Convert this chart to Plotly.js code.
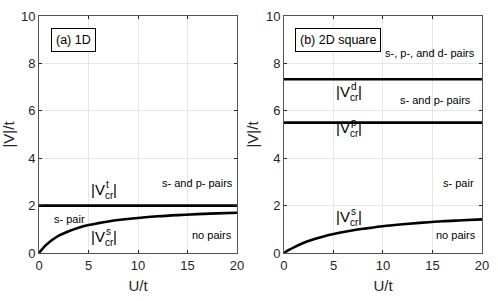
<!DOCTYPE html>
<html><head><meta charset="utf-8">
<script src="https://cdn.plot.ly/plotly-3.0.1.min.js"></script>
<style>html,body{margin:0;padding:0;background:#fff}#chart{width:498px;height:301px}</style>
</head><body><div id="chart"></div>
<script>
// Panel (a) 1D
const u1D = [0, 0.5, 1, 1.5, 2, 3, 4, 5, 6, 7, 8, 10, 12, 14, 16, 18, 20];
const vs1D = [0, 0.25, 0.44, 0.6, 0.73, 0.92, 1.07, 1.18, 1.26, 1.33, 1.39, 1.48, 1.55, 1.60, 1.64, 1.67, 1.70];
const uLine1D = [0, 20];
const vt1D = [2, 2];
// Panel (b) 2D square
const u2D = [0, 0.5, 1, 2, 3, 4, 5, 6, 7, 8, 10, 12, 14, 16, 18, 20];
const vs2D = [0, 0.13, 0.24, 0.43, 0.58, 0.70, 0.80, 0.89, 0.96, 1.02, 1.13, 1.21, 1.28, 1.34, 1.38, 1.42];
const uLine2D = [0, 20];
const vp2D = [5.5, 5.5];
const vd2D = [7.33, 7.33];
const xTicks = [0, 5, 10, 15, 20];
const yTicks = [0, 2, 4, 6, 8, 10];

const FONT = 'Liberation Sans, Arial, Helvetica, sans-serif';
const ink = '#262626';
const lineStyle = {color: '#000', width: 2.6, shape: 'spline'};

const traces = [
  {x: u1D, y: vs1D, xaxis: 'x', yaxis: 'y'},
  {x: uLine1D, y: vt1D, xaxis: 'x', yaxis: 'y'},
  {x: u2D, y: vs2D, xaxis: 'x2', yaxis: 'y2'},
  {x: uLine2D, y: vp2D, xaxis: 'x2', yaxis: 'y2'},
  {x: uLine2D, y: vd2D, xaxis: 'x2', yaxis: 'y2'}
].map(t => Object.assign({showlegend: false, hoverinfo: 'skip', mode: 'lines', line: lineStyle}, t));

function xax(domain, anchor) {
  return {domain: domain, anchor: anchor, range: [0, 20], tickvals: xTicks, ticks: 'inside', ticklen: 3,
    tickcolor: ink, showline: true, linecolor: '#555', linewidth: 1, mirror: 'ticks', showgrid: true,
    gridcolor: '#e6e6e6', zeroline: false, tickfont: {family: FONT, size: 13, color: ink},
    title: {text: 'U/t', font: {family: FONT, size: 15, color: ink}, standoff: 8}};
}
function yax(anchor) {
  return {domain: [0, 1], anchor: anchor, range: [0, 10], tickvals: yTicks, ticks: 'inside', ticklen: 3,
    tickcolor: ink, showline: true, linecolor: '#555', linewidth: 1, mirror: 'ticks', showgrid: true,
    gridcolor: '#e6e6e6', zeroline: false, tickfont: {family: FONT, size: 13, color: ink},
    title: {text: '|V|/t', font: {family: FONT, size: 15, color: ink}, standoff: 3}};
}

const ann = [];
function txt(xref, yref, x, y, text, size, opts) {
  ann.push(Object.assign({xref: xref, yref: yref, x: x, y: y, text: text, showarrow: false,
    font: {family: FONT, size: size, color: '#000'}}, opts || {}));
}
function vcr(xref, yref, x, y, sup) {
  txt(xref, yref, x, y, '|V', 15, {xanchor: 'right', yanchor: 'middle', xshift: 2});
  txt(xref, yref, x, y, sup, 10, {xanchor: 'left', yanchor: 'middle', xshift: -1, yshift: 5});
  txt(xref, yref, x, y, 'cr', 10, {xanchor: 'left', yanchor: 'middle', xshift: -2, yshift: -6});
  txt(xref, yref, x, y, '|', 15, {xanchor: 'left', yanchor: 'middle', xshift: 6});
}
// panel a
txt('x', 'y', 3.45, 9.0, '(a) 1D', 12.5, {bordercolor: '#000', borderwidth: 1, borderpad: 4, bgcolor: '#fff'});
vcr('x', 'y', 6.67, 2.66, 't');
vcr('x', 'y', 6.67, 0.68, 's');
txt('x', 'y', 16.0, 2.95, 's- and p- pairs', 11);
txt('x', 'y', 3.05, 1.43, 's- pair', 11);
txt('x', 'y', 17.45, 0.76, 'no pairs', 11);
// panel b
txt('x2', 'y2', 5.5, 9.0, '(b) 2D square', 12.5, {bordercolor: '#000', borderwidth: 1, borderpad: 4, bgcolor: '#fff'});
txt('x2', 'y2', 14.7, 8.43, 's-, p-, and d- pairs', 11);
vcr('x2', 'y2', 6.66, 6.8, 'd');
txt('x2', 'y2', 15.3, 6.45, 's- and p- pairs', 11);
vcr('x2', 'y2', 6.66, 5.28, 'p');
txt('x2', 'y2', 17.6, 2.95, 's- pair', 11);
vcr('x2', 'y2', 6.66, 1.56, 's');
txt('x2', 'y2', 17.4, 0.76, 'no pairs', 11);

const layout = {
  width: 498, height: 301, margin: {l: 39, r: 16, t: 16, b: 48},
  paper_bgcolor: '#fff', plot_bgcolor: '#fff',
  xaxis: xax([0, 0.447], 'y'), yaxis: yax('x'),
  xaxis2: xax([0.553, 1], 'y2'), yaxis2: yax('x2'),
  annotations: ann
};
Plotly.newPlot('chart', traces, layout, {staticPlot: true, displayModeBar: false});
</script></body></html>
